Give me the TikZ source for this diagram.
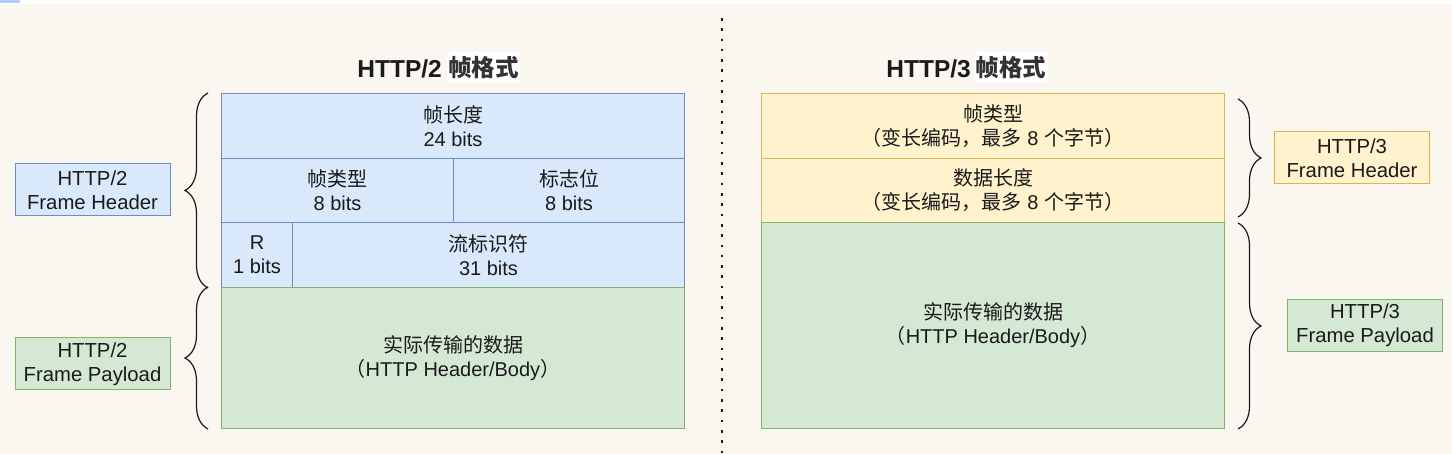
\documentclass[tikz,border=0pt]{standalone}
\usepackage{fontspec}
\setmainfont{Liberation Sans}
\newfontfamily\cjk{Noto Sans CJK SC}
\usetikzlibrary{decorations.pathreplacing}
\definecolor{bg}{HTML}{F9F7F0}
\definecolor{bluef}{HTML}{DAE8FC}
\definecolor{blued}{HTML}{6C8EBF}
\definecolor{greenf}{HTML}{D5E8D4}
\definecolor{greend}{HTML}{82B366}
\definecolor{yelf}{HTML}{FFF2CC}
\definecolor{yeld}{HTML}{D6B656}
\definecolor{topblue}{HTML}{B3CDF7}
\definecolor{ink}{HTML}{1A1A1A}
\definecolor{zhgrey}{HTML}{333333}
\newcommand\zh[1]{{\cjk #1}}
\begin{document}
\begin{tikzpicture}[x=1pt,y=1pt,
  cellbase/.style={draw, line width=1pt, align=center, inner sep=0pt, anchor=north west,
    text=ink, font=\fontsize{20}{24}\selectfont},
  bcell/.style={cellbase, fill=bluef, draw=blued},
  gcell/.style={cellbase, fill=greenf, draw=greend},
  ycell/.style={cellbase, fill=yelf, draw=yeld},
  lbl/.style={draw, line width=1pt, align=center, inner sep=0pt, minimum width=155pt,
    minimum height=52pt, text=ink, font=\fontsize{20.3}{24}\selectfont},
  bracestyle/.style={decorate, decoration={brace, amplitude=23pt}, line width=1.2pt, draw=ink},
  titlestyle/.style={font=\bfseries\fontsize{24.5}{28}\selectfont, text=ink, inner sep=0pt},
  zhtitle/.style={fill=white, minimum width=73pt, minimum height=31pt, inner sep=0pt,
    text=zhgrey, font=\cjk\bfseries\fontsize{23.5}{28}\selectfont},
  divider/.style={line width=2.6pt, draw=ink, dash pattern=on 2.6pt off 7.7pt}
]
\useasboundingbox (0,0) rectangle (1452,454);
\fill[bg] (0,0) rectangle (1452,450);
\fill[white] (0,450) rectangle (1452,454);
\fill[topblue] (0,451) rectangle (20,454);

% divider
\coordinate (dtop) at (722,436);
\coordinate (dbot) at (722,0);
\draw[divider] (dtop) -- (dbot);

% titles
\node[titlestyle, anchor=east] (t2a) at (442,385) {HTTP/2};
\node[zhtitle] (t2b) at (483.5,386.5) {帧格式};
\node[titlestyle, anchor=east] (t3a) at (971,385) {HTTP/3};
\node[zhtitle] (t3b) at (1011,386.5) {帧格式};

% HTTP/2 table
\node[bcell, minimum width=463pt, minimum height=65pt] (len) at (221,361) {\zh{帧长度}\\24 bits};
\node[bcell, minimum width=232pt, minimum height=64pt] (typ) at (221,296) {\zh{帧类型}\\8 bits};
\node[bcell, minimum width=231pt, minimum height=64pt] (flg) at (453,296) {\zh{标志位}\\8 bits};
\node[bcell, minimum width=71pt, minimum height=65pt] (rb) at (221,232) {R\\1 bits};
\node[bcell, minimum width=392pt, minimum height=65pt] (sid) at (292,232) {\zh{流标识符}\\31 bits};
\node[gcell, minimum width=463pt, minimum height=141pt] (data2) at (221,167) {\zh{实际传输的数据}\\\zh{（}HTTP Header/Body\zh{）}};

% HTTP/3 table
\node[ycell, minimum width=463pt, minimum height=65pt] (typ3) at (761,361) {\zh{帧类型}\\\zh{（变长编码，最多} 8 \zh{个字节）}};
\node[ycell, minimum width=463pt, minimum height=64pt] (len3) at (761,296) {\zh{数据长度}\\\zh{（变长编码，最多} 8 \zh{个字节）}};
\node[gcell, minimum width=463pt, minimum height=206pt] (data3) at (761,232) {\zh{实际传输的数据}\\\zh{（}HTTP Header/Body\zh{）}};

% left braces
\draw[bracestyle] ([xshift=-13pt]rb.south west) -- ([xshift=-13pt]len.north west);
\draw[bracestyle] ([xshift=-13pt]data2.south west) -- ([xshift=-13pt]data2.north west);
% right braces
\draw[bracestyle] ([xshift=13pt,yshift=-6pt]typ3.north east) -- ([xshift=13pt,yshift=6pt]len3.south east);
\draw[bracestyle] ([xshift=13pt,yshift=-1pt]data3.north east) -- ([xshift=13pt]data3.south east);

% labels
\node[lbl, fill=bluef, draw=blued] (h2h) at (92.5,264) {HTTP/2\\Frame Header};
\node[lbl, fill=greenf, draw=greend] (h2p) at (92.5,90) {HTTP/2\\Frame Payload};
\node[lbl, fill=yelf, draw=yeld] (h3h) at (1352,296) {HTTP/3\\Frame Header};
\node[lbl, fill=greenf, draw=greend] (h3p) at (1365,128.5) {HTTP/3\\Frame Payload};
\end{tikzpicture}
\end{document}
